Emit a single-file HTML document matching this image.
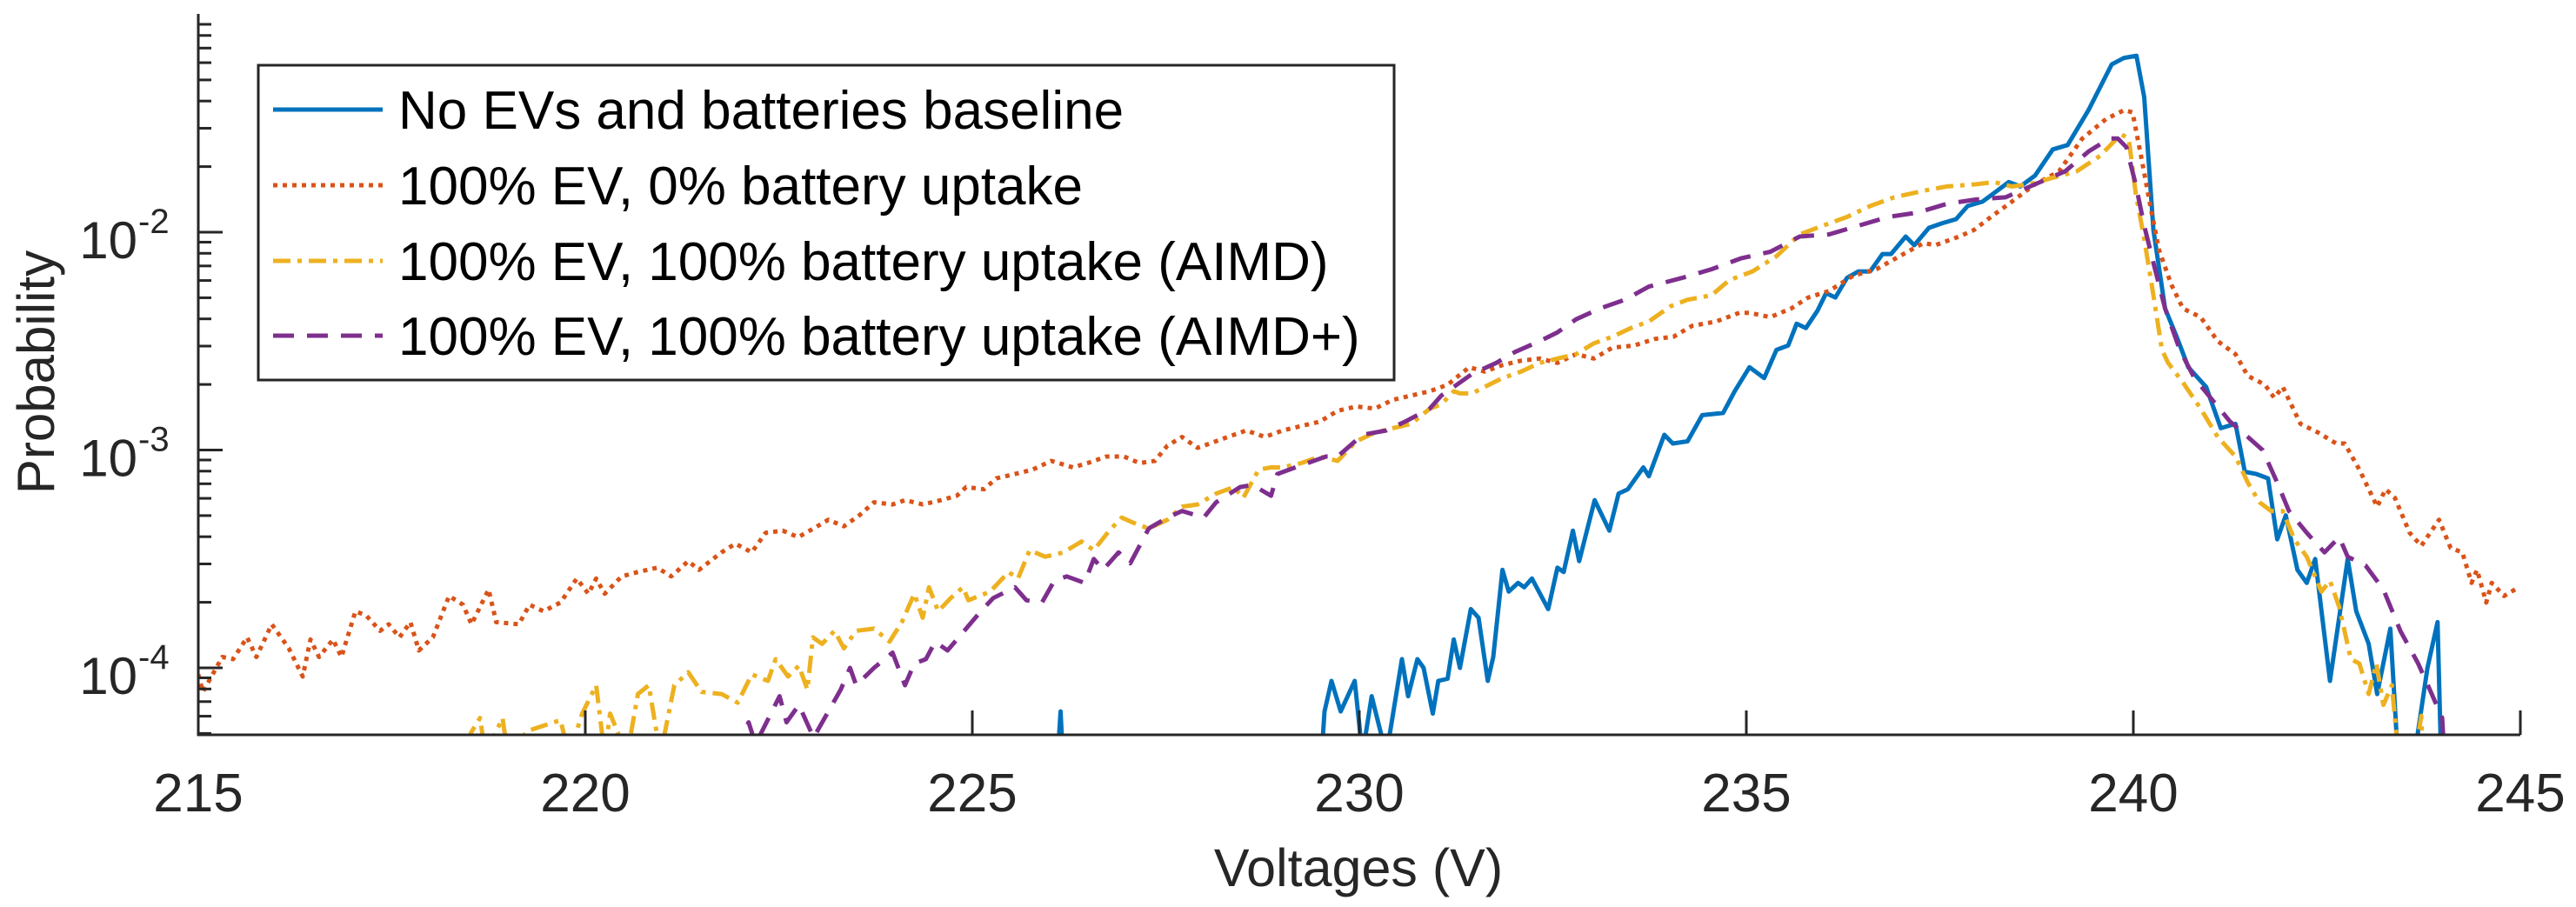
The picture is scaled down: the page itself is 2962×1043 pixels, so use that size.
<!DOCTYPE html>
<html><head><meta charset="utf-8">
<style>
html,body{margin:0;padding:0;background:#fff;}
svg{display:block;font-family:"Liberation Sans",Arial,sans-serif;}
</style></head>
<body>
<svg id="chart" width="2962" height="1043" viewBox="0 0 2962 1043" xmlns="http://www.w3.org/2000/svg">
<defs><clipPath id="plotClip"><rect x="228" y="16" width="2672" height="829"/></clipPath></defs>
<g id="series" clip-path="url(#plotClip)"></g>
<g id="axes"></g>
<text x="1562" y="1019" font-size="61" text-anchor="middle" fill="#262626">Voltages (V)</text>
<text transform="translate(62,428) rotate(-90)" font-size="60" text-anchor="middle" fill="#262626">Probability</text>
<g id="legend"></g>
</svg>
<script>
// x-axis ticks and y decades
const xTicks = [215, 220, 225, 230, 235, 240, 245];
const yDecades = [-4, -3, -2];
const legendLabels = ["No EVs and batteries baseline","100% EV, 0% battery uptake","100% EV, 100% battery uptake (AIMD)","100% EV, 100% battery uptake (AIMD+)"];

// Series: voltages and log10(probability). -5 = below plotted range
const baselineV = [226.0,226.14,226.25,229.4,229.55,229.64,229.76,229.94,230.04,230.16,230.35,230.55,230.63,230.75,230.83,230.95,231.02,231.14,231.22,231.3,231.44,231.54,231.66,231.73,231.85,231.93,232.05,232.13,232.23,232.44,232.56,232.64,232.76,232.84,233.04,233.23,233.35,233.47,233.67,233.74,233.94,234.05,234.24,234.43,234.7,234.85,235.04,235.23,235.39,235.54,235.65,235.77,235.92,236.03,236.15,236.3,236.45,236.6,236.76,236.87,237.06,237.17,237.36,237.52,237.71,237.86,238.05,238.24,238.39,238.54,238.73,238.96,239.15,239.42,239.72,239.88,240.04,240.14,240.26,240.41,240.56,240.71,240.94,241.13,241.32,241.44,241.59,241.74,241.86,241.97,242.12,242.24,242.35,242.54,242.77,242.88,243.04,243.15,243.32,243.45,243.55,243.8,243.93,243.99,244.05];
const baselineP = [-5,-4.2,-5,-5,-4.2,-4.06,-4.2,-4.06,-4.4,-4.13,-4.4,-3.96,-4.13,-3.96,-4.0,-4.21,-4.06,-4.05,-3.87,-4.0,-3.73,-3.77,-4.06,-3.95,-3.55,-3.65,-3.61,-3.63,-3.59,-3.73,-3.54,-3.56,-3.37,-3.51,-3.23,-3.37,-3.2,-3.18,-3.08,-3.12,-2.93,-2.97,-2.96,-2.84,-2.83,-2.73,-2.62,-2.67,-2.54,-2.52,-2.42,-2.44,-2.36,-2.28,-2.3,-2.21,-2.18,-2.18,-2.1,-2.1,-2.02,-2.06,-1.98,-1.96,-1.94,-1.88,-1.86,-1.81,-1.77,-1.79,-1.74,-1.62,-1.6,-1.44,-1.23,-1.2,-1.19,-1.38,-1.99,-2.35,-2.48,-2.62,-2.71,-2.9,-2.88,-3.1,-3.11,-3.13,-3.41,-3.3,-3.55,-3.61,-3.5,-4.06,-3.5,-3.74,-3.89,-4.12,-3.82,-4.6,-4.6,-4.0,-3.79,-4.6,-5];

const noBatteryV = [215.0,215.06,215.31,215.45,215.63,215.75,215.95,216.17,216.35,216.45,216.56,216.74,216.85,217.03,217.17,217.35,217.46,217.6,217.74,217.85,218.03,218.24,218.42,218.53,218.75,218.85,219.14,219.28,219.46,219.68,219.89,220.04,220.14,220.25,220.47,220.68,220.93,221.11,221.33,221.47,221.76,221.94,222.15,222.33,222.55,222.75,222.95,223.14,223.34,223.54,223.73,223.97,224.13,224.36,224.6,224.8,224.92,225.15,225.31,225.55,225.78,226.02,226.3,226.49,226.73,226.96,227.16,227.36,227.52,227.71,227.91,228.07,228.3,228.54,228.78,229.01,229.25,229.49,229.72,229.96,230.2,230.43,230.67,230.91,231.14,231.42,231.62,231.85,232.09,232.33,232.56,232.8,233.03,233.27,233.55,233.82,234.06,234.3,234.61,234.91,235.04,235.31,235.58,235.8,236.07,236.38,236.68,236.98,237.29,237.44,237.75,237.94,238.16,238.43,238.73,239.04,239.34,239.65,239.88,239.99,240.11,240.22,240.33,240.49,240.64,240.87,241.09,241.32,241.48,241.7,241.82,241.93,242.16,242.39,242.62,242.73,242.92,243.15,243.26,243.38,243.57,243.72,243.95,244.1,244.25,244.37,244.44,244.56,244.63,244.79,244.98];
const noBatteryP = [-4.03,-4.11,-3.95,-3.96,-3.86,-3.95,-3.8,-3.91,-4.04,-3.87,-3.95,-3.87,-3.95,-3.74,-3.76,-3.83,-3.8,-3.86,-3.79,-3.92,-3.86,-3.67,-3.71,-3.8,-3.64,-3.79,-3.8,-3.71,-3.74,-3.7,-3.59,-3.66,-3.59,-3.66,-3.58,-3.56,-3.54,-3.58,-3.51,-3.55,-3.47,-3.43,-3.47,-3.38,-3.37,-3.4,-3.36,-3.32,-3.35,-3.3,-3.24,-3.25,-3.23,-3.25,-3.23,-3.21,-3.17,-3.18,-3.13,-3.11,-3.09,-3.05,-3.08,-3.06,-3.03,-3.03,-3.06,-3.05,-2.98,-2.94,-2.99,-2.97,-2.94,-2.91,-2.94,-2.91,-2.89,-2.87,-2.82,-2.8,-2.81,-2.77,-2.75,-2.73,-2.7,-2.62,-2.64,-2.61,-2.59,-2.58,-2.6,-2.56,-2.58,-2.53,-2.52,-2.49,-2.48,-2.43,-2.41,-2.37,-2.37,-2.39,-2.35,-2.3,-2.27,-2.2,-2.17,-2.11,-2.05,-2.06,-2.02,-1.99,-1.93,-1.86,-1.78,-1.72,-1.57,-1.48,-1.44,-1.45,-1.67,-1.88,-2.08,-2.24,-2.35,-2.39,-2.5,-2.56,-2.66,-2.7,-2.76,-2.71,-2.88,-2.92,-2.97,-2.97,-3.09,-3.26,-3.18,-3.22,-3.38,-3.44,-3.32,-3.45,-3.47,-3.61,-3.55,-3.7,-3.61,-3.67,-3.63];

const aimdV = [218.45,218.52,218.64,218.71,218.93,219.0,219.25,219.68,219.79,219.96,220.14,220.25,220.32,220.54,220.68,220.82,220.97,221.15,221.33,221.5,221.76,221.97,222.15,222.36,222.46,222.62,222.76,222.87,222.94,223.06,223.22,223.34,223.5,223.73,223.93,224.09,224.25,224.36,224.44,224.56,224.72,224.88,224.95,225.23,225.47,225.59,225.74,225.94,226.18,226.41,226.57,226.77,226.93,227.12,227.28,227.52,227.71,227.91,228.15,228.38,228.5,228.7,228.86,229.01,229.25,229.49,229.72,229.96,230.2,230.43,230.67,230.91,231.06,231.22,231.3,231.46,231.62,231.85,232.09,232.33,232.56,232.8,233.03,233.27,233.51,233.74,234.02,234.24,234.55,234.78,235.08,235.39,235.69,235.99,236.3,236.6,236.91,237.29,237.59,237.97,238.2,238.43,238.66,238.96,239.27,239.57,239.84,239.94,240.03,240.14,240.26,240.37,240.45,240.64,240.87,241.09,241.32,241.48,241.63,241.78,241.93,242.08,242.24,242.43,242.54,242.66,242.81,242.92,243.04,243.14,243.23,243.34,243.45,243.6,243.72,243.8];
const aimdP = [-5,-4.3,-4.23,-4.4,-4.23,-4.4,-4.29,-4.24,-4.4,-4.21,-4.08,-4.4,-4.21,-4.4,-4.12,-4.08,-4.4,-4.08,-4.02,-4.11,-4.12,-4.16,-4.03,-4.06,-3.96,-4.04,-3.99,-4.1,-3.86,-3.89,-3.83,-3.91,-3.83,-3.82,-3.88,-3.79,-3.66,-3.77,-3.63,-3.74,-3.68,-3.63,-3.69,-3.65,-3.56,-3.59,-3.46,-3.49,-3.47,-3.42,-3.46,-3.37,-3.31,-3.34,-3.36,-3.32,-3.26,-3.25,-3.2,-3.17,-3.22,-3.09,-3.08,-3.08,-3.06,-3.03,-3.05,-2.96,-2.92,-2.9,-2.88,-2.81,-2.79,-2.73,-2.74,-2.74,-2.71,-2.67,-2.64,-2.6,-2.58,-2.56,-2.51,-2.48,-2.44,-2.41,-2.34,-2.31,-2.29,-2.22,-2.18,-2.11,-2.01,-1.97,-1.93,-1.88,-1.84,-1.81,-1.79,-1.78,-1.77,-1.79,-1.78,-1.75,-1.72,-1.65,-1.55,-1.57,-1.82,-2.03,-2.29,-2.54,-2.6,-2.69,-2.81,-2.94,-3.03,-3.15,-3.24,-3.28,-3.28,-3.41,-3.49,-3.65,-3.6,-3.72,-3.96,-3.98,-4.12,-3.98,-4.17,-4.08,-4.5,-4.5,-4.22,-5];

const aimdPlusV = [221.9,222.11,222.2,222.51,222.6,222.76,222.95,223.14,223.3,223.42,223.5,223.73,223.97,224.13,224.25,224.4,224.52,224.68,224.92,225.11,225.27,225.55,225.7,225.9,226.06,226.22,226.45,226.57,226.69,226.89,227.04,227.28,227.52,227.71,227.99,228.15,228.46,228.62,228.86,228.94,229.25,229.57,229.72,230.04,230.35,230.59,230.91,231.06,231.22,231.46,231.77,232.01,232.33,232.56,232.8,233.11,233.43,233.74,234.17,234.55,234.93,235.31,235.69,236.07,236.45,236.83,237.21,237.59,237.97,238.35,238.73,239.12,239.42,239.69,239.8,239.91,240.03,240.14,240.26,240.41,240.6,240.79,241.02,241.25,241.48,241.67,241.86,242.01,242.24,242.47,242.66,242.77,243.0,243.23,243.45,243.68,243.83,243.99,244.05];
const aimdPlusP = [-4.4,-4.25,-4.35,-4.13,-4.25,-4.17,-4.32,-4.2,-4.1,-4.0,-4.08,-4.0,-3.93,-4.08,-3.98,-3.96,-3.88,-3.92,-3.82,-3.74,-3.68,-3.63,-3.69,-3.7,-3.6,-3.58,-3.61,-3.5,-3.55,-3.47,-3.52,-3.36,-3.31,-3.28,-3.31,-3.24,-3.17,-3.16,-3.21,-3.11,-3.07,-3.03,-3.03,-2.93,-2.91,-2.87,-2.81,-2.75,-2.71,-2.65,-2.6,-2.55,-2.5,-2.46,-2.4,-2.35,-2.31,-2.25,-2.21,-2.17,-2.12,-2.09,-2.02,-2.01,-1.97,-1.93,-1.91,-1.87,-1.85,-1.84,-1.78,-1.72,-1.63,-1.57,-1.57,-1.61,-1.78,-1.97,-2.14,-2.35,-2.54,-2.67,-2.77,-2.87,-2.94,-3.0,-3.15,-3.28,-3.38,-3.47,-3.4,-3.49,-3.53,-3.64,-3.83,-3.98,-4.1,-4.23,-4.6];

const X0 = 228, XPV = 89.0;       // px at 215 V, px per volt
const Y_M2 = 267, YPD = 250.5;    // px at 1e-2, px per decade
function xScale(v){ return X0 + (v - 215) * XPV; }
function yScale(lp){ return Y_M2 - (lp + 2) * YPD; }

const NS = "http://www.w3.org/2000/svg";
function mk(tag, attrs){ const e = document.createElementNS(NS, tag); for (const k in attrs) e.setAttribute(k, attrs[k]); return e; }

const styles = [
  {c:"#0072BD", d:"none"},
  {c:"#D95319", d:"5 6"},
  {c:"#EDB120", d:"20 8 5 8"},
  {c:"#7E2F8E", d:"24 15"}
];
const seriesV = [baselineV, noBatteryV, aimdV, aimdPlusV];
const seriesP = [baselineP, noBatteryP, aimdP, aimdPlusP];
const seriesNames = ["series-baseline","series-100ev-0battery","series-100ev-aimd","series-100ev-aimd-plus"];

const gS = document.getElementById("series");
for (let s = 0; s < 4; s++){
  const pts = seriesV[s].map((v,i) => xScale(v).toFixed(1) + "," + yScale(seriesP[s][i]).toFixed(1)).join(" ");
  const pl = mk("polyline", {points: pts, fill: "none", stroke: styles[s].c, "stroke-width": 5, "stroke-dasharray": styles[s].d, "stroke-linejoin": "round"});
  
  
  gS.appendChild(pl);
}

// axes
const gA = document.getElementById("axes");
const axisColor = "#262626";
const yBottom = 845, yTop = 16, xRight = 2898;
const yAxis = mk("line", {x1: X0, y1: yTop, x2: X0, y2: yBottom, stroke: axisColor, "stroke-width": 3});


gA.appendChild(yAxis);
const xAxis = mk("line", {x1: X0 - 1.5, y1: yBottom, x2: xRight, y2: yBottom, stroke: axisColor, "stroke-width": 3});


gA.appendChild(xAxis);

xTicks.forEach(v => {
  const x = xScale(v);
  const t = mk("line", {x1: x, y1: yBottom, x2: x, y2: yBottom - 28, stroke: axisColor, "stroke-width": 3});
  
  
  gA.appendChild(t);
  const lb = mk("text", {x: x, y: 933, "font-size": 62, "text-anchor": "middle", fill: axisColor});
  lb.textContent = v;
  
  
  gA.appendChild(lb);
});

// minor ticks
for (let d = -5; d <= -2; d++){
  for (let m = 2; m <= 9; m++){
    const lp = d + Math.log10(m);
    const y = yScale(lp);
    if (y > yBottom || y < yTop) continue;
    const t = mk("line", {x1: X0, y1: y, x2: X0 + 15, y2: y, stroke: axisColor, "stroke-width": 3});
    
    
    gA.appendChild(t);
  }
}
yDecades.forEach(d => {
  const y = yScale(d);
  const t = mk("line", {x1: X0, y1: y, x2: X0 + 28, y2: y, stroke: axisColor, "stroke-width": 3});
  
  
  gA.appendChild(t);
  const lb = mk("text", {x: 158, y: y + 30, "font-size": 60, "text-anchor": "end", fill: axisColor});
  lb.textContent = "10";
  
  
  gA.appendChild(lb);
  const sp = mk("text", {x: 159, y: y + 1, "font-size": 40, "text-anchor": "start", fill: axisColor});
  sp.textContent = "-" + Math.abs(d);
  
  
  gA.appendChild(sp);
});

// legend
const gL = document.getElementById("legend");
const box = mk("rect", {x: 297, y: 75, width: 1306, height: 362, fill: "#fff", stroke: axisColor, "stroke-width": 3});


gL.appendChild(box);
const rowY = [126, 213, 300, 386];
for (let i = 0; i < 4; i++){
  const ln = mk("line", {x1: 314, y1: rowY[i], x2: 440, y2: rowY[i], stroke: styles[i].c, "stroke-width": 5, "stroke-dasharray": styles[i].d});
  
  
  gL.appendChild(ln);
  const tx = mk("text", {x: 458, y: rowY[i] + 22, "font-size": 62, fill: "#000"});
  tx.textContent = legendLabels[i];
  
  
  gL.appendChild(tx);
}
</script>
</body></html>
